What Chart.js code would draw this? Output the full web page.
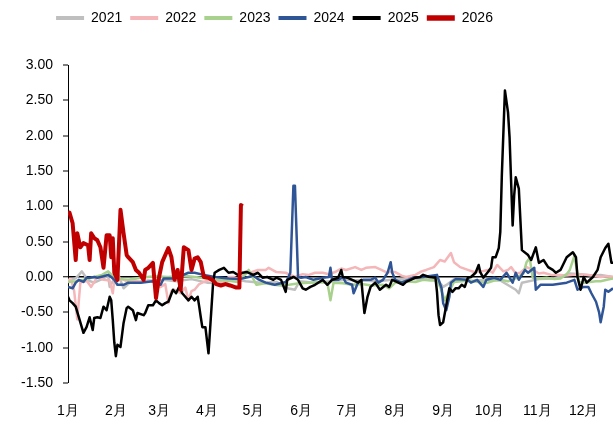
<!DOCTYPE html>
<html>
<head>
<meta charset="utf-8">
<script src="https://cdn.jsdelivr.net/npm/chart.js@4"></script>
<style>
  html, body { margin: 0; padding: 0; background: #fff; }
</style>
</head>
<body>
<canvas id="chart" width="613" height="424"></canvas>
<script>
// x = day of year (0 = 1 Jan), y = value
const monthStarts = [0, 31, 59, 90, 120, 151, 181, 212, 243, 273, 304, 334];
const monthLabels = ["1月", "2月", "3月", "4月", "5月", "6月", "7月", "8月", "9月", "10月", "11月", "12月"];
const yTicks = [-1.5, -1, -0.5, 0, 0.5, 1, 1.5, 2, 2.5, 3];
const years = ["2021", "2022", "2023", "2024", "2025", "2026"];

const s2021 = [[0,-0.05],[5,-0.02],[9,0.08],[13,-0.05],[17,-0.08],[22,-0.03],[26,0.02],[27,-0.14],[29,-0.06],[32,0.06],[36,-0.16],[40,-0.08],[48,-0.06],[55,-0.05],[62,-0.04],[70,-0.06],[80,-0.03],[90,-0.08],[100,-0.09],[108,-0.03],[115,-0.06],[125,-0.08],[135,-0.07],[142,-0.16],[147,-0.18],[150,-0.06],[160,-0.08],[170,-0.06],[180,-0.04],[190,-0.05],[200,-0.06],[210,-0.04],[220,-0.03],[232,-0.03],[240,-0.06],[243,-0.14],[246,-0.10],[250,-0.03],[260,-0.06],[270,-0.04],[280,-0.05],[290,-0.18],[292,-0.23],[294,-0.08],[305,-0.03],[315,-0.02],[325,0.05],[332,0.04],[340,0.02],[345,0.03],[353,0.00]];

const s2022 = [[0,-0.04],[2,-0.04],[4,-0.2],[6,-0.60],[8,-0.08],[12,-0.05],[15,-0.14],[19,0.00],[23,-0.04],[27,-0.05],[29,-0.23],[30,-0.04],[35,-0.03],[39,-0.07],[43,-0.04],[47,-0.08],[52,-0.05],[56,-0.08],[60,-0.14],[63,-0.10],[65,-0.37],[67,-0.2],[69,-0.18],[73,-0.23],[76,-0.15],[78,-0.33],[80,-0.2],[82,-0.18],[85,-0.1],[88,-0.07],[92,-0.04],[96,-0.06],[101,-0.08],[104,0.00],[107,0.00],[112,-0.04],[115,0.08],[118,0.06],[123,0.10],[128,0.10],[130,0.13],[135,0.07],[141,0.06],[147,0.00],[152,0.04],[156,0.03],[160,0.06],[165,0.06],[169,0.04],[173,0.07],[177,0.12],[180,0.10],[186,0.14],[190,0.10],[193,0.13],[199,0.14],[203,0.10],[206,0.07],[212,0.07],[216,0.02],[219,0.00],[225,0.03],[229,0.08],[232,0.10],[237,0.14],[241,0.24],[244,0.22],[246,0.28],[248,0.34],[250,0.21],[254,0.14],[259,0.10],[263,0.07],[268,0.08],[272,0.10],[275,0.06],[278,0.17],[282,0.08],[285,0.10],[287,0.14],[290,0.05],[293,0.06],[297,0.14],[301,0.10],[305,0.05],[308,0.06],[313,0.03],[319,0.03],[323,0.02],[327,0.03],[331,0.04],[336,0.03],[340,0.02],[345,0.00],[349,0.01],[353,0.00]];

const s2023 = [[0,-0.07],[5,-0.06],[10,-0.04],[14,-0.02],[17,0.00],[22,0.03],[26,0.08],[30,-0.01],[35,-0.03],[39,-0.04],[47,-0.01],[56,0.01],[65,0.00],[74,0.02],[82,0.00],[90,-0.02],[95,-0.04],[103,-0.05],[110,-0.07],[115,0.04],[117,0.10],[122,-0.11],[128,-0.09],[133,-0.11],[138,-0.12],[143,-0.11],[150,-0.09],[156,-0.08],[162,-0.07],[168,-0.08],[170,-0.33],[172,-0.08],[178,-0.09],[184,-0.11],[190,-0.10],[197,-0.12],[204,-0.11],[208,-0.16],[212,-0.08],[218,-0.06],[225,-0.07],[230,-0.04],[235,-0.05],[239,-0.04],[241,-0.14],[244,-0.33],[247,-0.20],[250,-0.07],[255,-0.06],[260,-0.05],[266,-0.07],[272,-0.08],[276,-0.05],[280,-0.04],[285,-0.06],[290,-0.02],[295,0.05],[297,0.21],[299,0.27],[301,-0.01],[305,-0.02],[310,-0.01],[315,-0.03],[319,-0.02],[323,0.04],[325,0.10],[328,0.30],[331,-0.07],[335,-0.08],[338,-0.07],[342,-0.06],[345,-0.06],[349,-0.04],[353,-0.02]];

const s2024 = [[0,-0.14],[3,-0.16],[5,-0.08],[7,-0.04],[10,-0.07],[12,-0.01],[14,-0.01],[17,0.00],[19,-0.01],[23,0.01],[26,0.03],[28,0.00],[30,-0.04],[32,-0.11],[36,-0.11],[39,-0.08],[43,-0.08],[47,-0.08],[51,-0.07],[55,-0.06],[60,-0.11],[62,-0.02],[69,-0.02],[78,0.06],[82,0.06],[88,0.03],[95,0.00],[104,-0.02],[111,-0.03],[117,0.00],[120,0.02],[123,-0.03],[128,-0.08],[134,-0.11],[141,-0.07],[142,-0.04],[144,0.06],[146,1.29],[147,1.29],[149,0.00],[151,-0.01],[154,0.00],[159,-0.04],[165,-0.01],[169,0.00],[170,0.13],[171,-0.04],[175,-0.04],[178,0.00],[180,-0.08],[184,-0.11],[185,-0.23],[188,-0.07],[191,-0.04],[196,-0.04],[199,-0.01],[201,-0.08],[204,-0.04],[207,0.06],[209,0.21],[210,0.06],[212,-0.04],[216,-0.08],[224,-0.01],[230,0.00],[239,0.03],[242,-0.16],[243,-0.37],[245,-0.47],[247,-0.28],[248,-0.08],[251,-0.03],[259,-0.04],[261,-0.08],[265,-0.04],[269,-0.14],[271,-0.04],[276,-0.01],[280,-0.04],[284,0.06],[288,-0.08],[290,0.06],[292,-0.04],[296,0.10],[298,0.06],[302,0.13],[303,-0.18],[306,-0.11],[314,-0.11],[323,-0.08],[328,-0.04],[330,-0.18],[334,-0.14],[337,-0.14],[339,-0.23],[342,-0.35],[344,-0.50],[345,-0.64],[347,-0.42],[348,-0.18],[350,-0.21],[353,-0.16]];

const s2025 = [[0,-0.28],[1,-0.33],[3,-0.37],[5,-0.42],[10,-0.79],[12,-0.71],[14,-0.57],[16,-0.75],[17,-0.58],[19,-0.57],[21,-0.58],[23,-0.42],[25,-0.47],[27,-0.28],[28,-0.33],[29,-0.61],[30,-0.93],[31,-1.12],[32,-0.96],[34,-0.99],[36,-0.65],[38,-0.44],[39,-0.42],[42,-0.47],[44,-0.61],[45,-0.51],[49,-0.54],[50,-0.51],[52,-0.40],[55,-0.40],[57,-0.33],[59,-0.37],[61,-0.40],[63,-0.37],[65,-0.35],[68,-0.18],[70,-0.23],[72,-0.14],[74,-0.23],[78,-0.33],[80,-0.28],[82,-0.33],[84,-0.28],[85,-0.42],[86,-0.57],[87,-0.71],[89,-0.71],[91,-1.08],[92,-0.75],[94,-0.08],[95,0.06],[98,0.10],[101,0.13],[104,0.06],[107,0.07],[110,0.03],[113,0.06],[116,0.07],[120,0.03],[123,0.06],[126,-0.01],[129,0.00],[133,-0.04],[135,-0.01],[138,-0.04],[141,-0.21],[142,-0.04],[146,0.00],[147,-0.01],[149,-0.04],[152,-0.16],[154,-0.18],[157,-0.14],[160,-0.11],[165,-0.04],[168,-0.11],[171,-0.04],[175,-0.01],[177,0.10],[178,0.00],[181,-0.01],[184,-0.04],[188,-0.08],[190,-0.04],[191,-0.28],[192,-0.51],[194,-0.28],[196,-0.14],[199,-0.08],[202,-0.18],[206,-0.11],[208,-0.14],[210,-0.04],[213,-0.07],[217,-0.11],[219,-0.07],[222,-0.04],[225,-0.01],[228,0.00],[230,0.03],[234,0.00],[238,-0.01],[239,-0.21],[240,-0.54],[241,-0.68],[243,-0.64],[245,-0.40],[247,-0.16],[249,-0.21],[251,-0.16],[253,-0.16],[255,-0.11],[257,-0.14],[259,-0.01],[261,0.00],[264,0.06],[266,0.17],[267,0.07],[269,-0.01],[272,0.07],[274,0.13],[275,0.28],[277,0.28],[279,0.41],[280,0.64],[281,1.44],[283,2.64],[285,2.33],[286,1.98],[288,0.73],[289,1.16],[290,1.41],[292,1.25],[294,0.38],[298,0.31],[300,0.24],[303,0.42],[305,0.20],[308,0.24],[311,0.14],[314,0.10],[316,0.06],[319,0.10],[323,0.28],[327,0.35],[329,0.28],[330,0.00],[332,-0.18],[334,0.00],[336,-0.08],[340,0.00],[343,0.10],[345,0.28],[348,0.41],[350,0.47],[352,0.20],[353,0.20]];

const s2026 = [[0,0.88],[1,0.91],[3,0.76],[5,0.24],[6,0.62],[8,0.42],[10,0.48],[13,0.45],[14,0.24],[15,0.62],[17,0.55],[19,0.52],[21,0.42],[23,0.13],[25,0.59],[27,0.59],[28,0.28],[29,0.55],[30,0.06],[32,-0.04],[34,0.95],[36,0.62],[38,0.31],[39,0.28],[42,0.21],[44,0.10],[46,0.06],[49,-0.04],[50,0.10],[52,0.13],[55,0.20],[57,-0.30],[59,0.00],[61,0.21],[65,0.41],[67,0.28],[69,-0.04],[71,0.10],[73,-0.18],[75,0.42],[78,0.38],[80,0.10],[82,0.26],[84,0.28],[86,0.21],[88,0.00],[91,-0.01],[94,-0.05],[96,-0.10],[99,-0.12],[102,-0.10],[105,-0.12],[109,-0.15],[111,-0.15],[112,1.02],[113,1.00]];

const series = [s2021, s2022, s2023, s2024, s2025, s2026];
const colors = ["#BFBFBF", "#F4B6B8", "#A9D18E", "#2F5597", "#000000", "#C00000"];
const widths = [2.5, 2.5, 2.5, 2.5, 2.5, 4];
const legendWidths = [4, 4, 4, 4, 4, 5.5];

const FONT = "'Liberation Sans', sans-serif";

const datasets = years.map((y, i) => ({
  label: y,
  data: series[i].map(p => ({ x: p[0], y: p[1] })),
  borderColor: colors[i],
  backgroundColor: colors[i],
  borderWidth: widths[i],
  pointRadius: 0,
  tension: 0,
  borderJoinStyle: "round",
  order: years.length - i
}));

// legend: fixed height, nudged left/down like the original
const legendTweak = {
  id: "legendTweak",
  beforeLayout(chart) {
    const lg = chart.legend;
    if (lg && !lg._patched) {
      const fit = lg.fit;
      lg.fit = function () { fit.call(this); this.height = 65; };
      lg._patched = true;
    }
  },
  afterLayout(chart) {
    const lg = chart.legend;
    lg.left = -32;
    lg.right = 581;
    lg.top = 3;
  }
};

new Chart(document.getElementById("chart"), {
  type: "line",
  data: { datasets },
  plugins: [legendTweak],
  options: {
    responsive: false,
    animation: false,
    layout: { padding: 0 },
    plugins: {
      legend: {
        display: true,
        position: "top",
        reverse: true,
        labels: {
          usePointStyle: true,
          pointStyle: "line",
          pointStyleWidth: 28,
          padding: 8,
          color: "#000",
          font: { family: FONT, size: 14 },
          generateLabels(chart) {
            const items = Chart.defaults.plugins.legend.labels.generateLabels(chart);
            items.forEach(it => { it.lineWidth = legendWidths[it.datasetIndex]; });
            return items;
          }
        }
      },
      tooltip: { enabled: false }
    },
    scales: {
      x: {
        type: "linear",
        min: 0,
        max: 353,
        afterBuildTicks(s) { s.ticks = monthStarts.map(v => ({ value: v })); },
        afterFit(s) { s.height = 41; },
        grid: { display: false },
        border: { display: false },
        ticks: {
          autoSkip: false,
          maxRotation: 0,
          padding: 12,
          color: "#000",
          font: { family: FONT, size: 14 },
          callback: (v, i) => monthLabels[i]
        }
      },
      y: {
        min: -1.5,
        max: 3,
        afterBuildTicks(s) { s.ticks = yTicks.map(v => ({ value: v })); },
        afterFit(s) { s.width = 68; },
        grid: {
          color: c => (c.tick && c.tick.value === 0 ? "#000" : "rgba(0,0,0,0)"),
          lineWidth: c => (c.tick && c.tick.value === 0 ? 1.5 : 0),
          tickColor: "#000",
          tickLength: 5,
          tickWidth: 1
        },
        border: { display: true, color: "#000", width: 1 },
        ticks: {
          padding: 10,
          color: "#000",
          font: { family: FONT, size: 14 },
          callback: v => v.toFixed(2)
        }
      }
    }
  }
});
</script>
</body>
</html>
